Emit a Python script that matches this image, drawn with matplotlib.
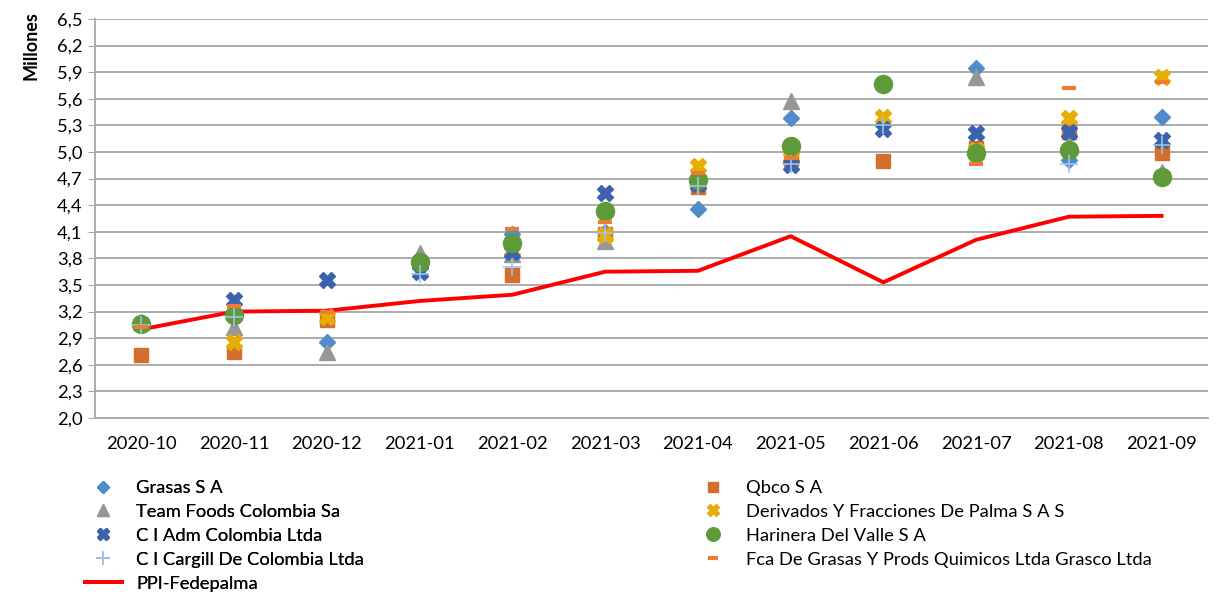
import numpy as np
import matplotlib
matplotlib.use("Agg")
import matplotlib.pyplot as plt

plt.rcParams['font.family'] = ['Lato', 'DejaVu Sans']

months = ['2020-10', '2020-11', '2020-12', '2021-01', '2021-02', '2021-03',
          '2021-04', '2021-05', '2021-06', '2021-07', '2021-08', '2021-09']
nan = np.nan

# values in millions
grasas    = [3.05, 3.18, 2.86, 3.70, 4.08, 4.10, 4.36, 5.38, 5.30, 5.95, 4.91, 5.40]
qbco      = [2.71, 2.74, 3.10, nan,  3.61, 4.08, 4.60, 4.92, 4.90, 5.04, 5.22, 4.99]
teamfoods = [3.08, 3.03, 2.74, 3.86, 3.85, 4.00, 4.73, 5.58, nan,  5.85, 5.08, 4.78]
derivados = [nan,  2.86, 3.14, nan,  3.90, 4.06, 4.84, 4.93, 5.39, 5.02, 5.38, 5.85]
adm       = [nan,  3.33, 3.56, 3.65, 3.87, 4.54, 4.64, 4.85, 5.26, 5.21, 5.23, 5.14]
harinera  = [3.06, 3.16, nan,  3.76, 3.97, 4.34, 4.68, 5.07, 5.77, 4.99, 5.02, 4.72]
cargill   = [3.05, 3.14, nan,  3.62, 3.70, 4.09, 4.62, 4.87, 5.30, nan,  4.87, 5.08]
grasco    = [3.03, 3.26, 3.20, nan,  4.13, 4.21, 4.76, 4.93, nan,  4.87, 5.72, 5.79]
ppi       = [3.00, 3.20, 3.21, 3.32, 3.39, 3.65, 3.66, 4.05, 3.53, 4.01, 4.27, 4.28]

series = [
    ('Grasas S A', grasas, dict(marker='D', ms=8.5, color='#4F8CC9')),
    ('Qbco S A', qbco, dict(marker='s', ms=10, color='#D36E2D')),
    ('Team Foods Colombia Sa', teamfoods, dict(marker='^', ms=12, color='#979797')),
    ('Derivados Y Fracciones De Palma S A S', derivados, dict(marker='X', ms=12, color='#E6AD05')),
    ('C I Adm Colombia Ltda', adm, dict(marker='X', ms=12, color='#3C62AE')),
    ('Harinera Del Valle S A', harinera, dict(marker='o', ms=13, color='#5E9A3A')),
    ('C I Cargill De Colombia Ltda', cargill, dict(marker='+', ms=13, mew=1.2, color='#9DC3E6')),
    ('Fca De Grasas Y Prods Quimicos Ltda Grasco Ltda', grasco, dict(marker='_', ms=10, mew=3, color='#ED7D31')),
]

fig = plt.figure(figsize=(12.31, 5.94), dpi=100)
ax = fig.add_axes([95 / 1231, 1 - 418 / 594, 1113 / 1231, 399 / 594])

x = np.arange(len(months))
line_ppi, = ax.plot(x, ppi, color='#FF0000', lw=2.8, zorder=2, label='PPI-Fedepalma')

handles = {}
for i, (name, vals, style) in enumerate(series):
    h, = ax.plot(x, vals, linestyle='none', zorder=3 + i, label=name, **style)
    handles[name] = h

ax.set_xlim(-0.5, len(months) - 0.5)
ax.set_ylim(2.0, 6.5)
yt = np.round(np.arange(2.0, 6.51, 0.3), 1)
ax.set_yticks(yt)
ax.set_yticklabels([f"{v:.1f}".replace('.', ',') for v in yt])
ax.set_xticks(x)
ax.set_xticklabels(months)
ax.tick_params(axis='x', length=0, labelsize=13.2, pad=13)
ax.tick_params(axis='y', length=5, color='#A6A6A6', labelsize=13.2, pad=4)
ax.grid(axis='y', color='#A6A6A6', lw=1.3, zorder=0)
ax.set_axisbelow(True)
for side in ['top', 'right']:
    ax.spines[side].set_visible(False)
ax.spines['left'].set_color('#A6A6A6')
ax.spines['bottom'].set_color('#A6A6A6')
ax.spines['left'].set_linewidth(1.3)
ax.spines['bottom'].set_linewidth(1.3)

fig.text(31 / 1231, 1 - 46 / 594, 'Millones', rotation=90, fontsize=13,
         fontweight='bold', ha='center', va='center')

left_names = ['Grasas S A', 'Team Foods Colombia Sa', 'C I Adm Colombia Ltda',
              'C I Cargill De Colombia Ltda']
right_names = ['Qbco S A', 'Derivados Y Fracciones De Palma S A S',
               'Harinera Del Valle S A', 'Fca De Grasas Y Prods Quimicos Ltda Grasco Ltda']

leg_kw = dict(frameon=False, fontsize=13.2, labelspacing=0.43, borderpad=0,
              borderaxespad=0, handlelength=2.0, handletextpad=0.8,
              markerscale=0.75, loc='upper left')
leg1 = fig.legend([handles[n] for n in left_names] + [line_ppi],
                  left_names + ['PPI-Fedepalma'],
                  bbox_to_anchor=(85 / 1231, 1 - 480 / 594), **leg_kw)
fig.add_artist(leg1)
fig.legend([handles[n] for n in right_names], right_names,
           bbox_to_anchor=(695 / 1231, 1 - 480 / 594), **leg_kw)

fig.savefig('out.png', dpi=100)
